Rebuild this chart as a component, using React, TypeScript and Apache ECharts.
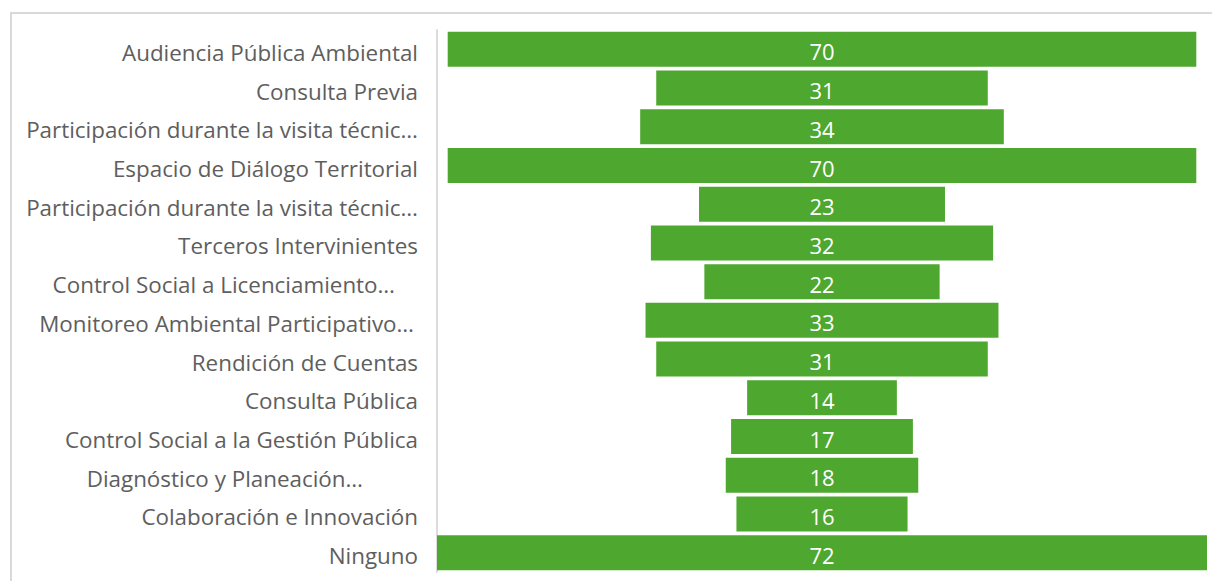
import React, { useEffect, useRef } from "react";
import * as echarts from "echarts";

const categories = [
  "Audiencia Pública Ambiental",
  "Consulta Previa",
  "Participación durante la visita técnic…",
  "Espacio de Diálogo Territorial",
  "Participación durante la visita técnic…",
  "Terceros Intervinientes",
  "Control Social a Licenciamiento…",
  "Monitoreo Ambiental Participativo…",
  "Rendición de Cuentas",
  "Consulta Pública",
  "Control Social a la Gestión Pública",
  "Diagnóstico y Planeación…",
  "Colaboración e Innovación",
  "Ninguno",
];

const values = [70, 31, 34, 70, 23, 32, 22, 33, 31, 14, 17, 18, 16, 72];

// extra right padding for truncated labels (as in the original rendering)
const labelPadRight: Record<number, number> = { 6: 23, 7: 4, 11: 55 };

export default function App() {
  const ref = useRef<HTMLDivElement>(null);
  useEffect(() => {
    if (!ref.current) return;
    const chart = echarts.init(ref.current, undefined, { renderer: "svg" });
    const maxV = Math.max(...values);
    const offsets = values.map((v) => (maxV - v) / 2);
    const font = "'Open Sans', 'Noto Sans', sans-serif";
    const lblStyle = { fontSize: 22.4, color: "#5e5e5e", fontFamily: font };
    chart.setOption({
      animation: false,
      grid: { left: 437, right: 5, top: 30, bottom: 9 },
      xAxis: { type: "value", min: 0, max: maxV, show: false },
      yAxis: {
        type: "category",
        data: categories,
        inverse: true,
        axisLine: { show: true, lineStyle: { color: "#dcdcdc", width: 2 } },
        axisTick: { show: false },
        axisLabel: {
          margin: 19,
          ...lblStyle,
          formatter: (val: string, idx: number) => {
            const p = labelPadRight[idx];
            return p ? `{p${idx}|${val}}` : `{n|${val}}`;
          },
          rich: {
            n: { ...lblStyle, padding: [6, 0, 0, 0] },
            ...Object.fromEntries(
              Object.entries(labelPadRight).map(([k, v]) => [
                "p" + k,
                { ...lblStyle, padding: [6, v, 0, 0] },
              ])
            ),
          },
        },
        splitLine: { show: false },
      },
      graphic: [
        { type: "line", shape: { x1: 10, y1: 13, x2: 1212, y2: 13 }, style: { stroke: "#d9d9d9", lineWidth: 2 } },
        { type: "line", shape: { x1: 11, y1: 12, x2: 11, y2: 581 }, style: { stroke: "#d9d9d9", lineWidth: 2 } },
      ],
      series: [
        {
          type: "bar",
          stack: "f",
          data: offsets,
          barWidth: 35,
          itemStyle: { color: "transparent" },
          silent: true,
        },
        {
          type: "bar",
          stack: "f",
          data: values,
          barWidth: 35,
          itemStyle: { color: "#4ea72e" },
          label: {
            show: true,
            position: "inside",
            color: "#ffffff",
            fontSize: 22,
            fontFamily: font,
            offset: [0, 2],
          },
        },
      ],
    });
    return () => chart.dispose();
  }, []);
  return (
    <div
      ref={ref}
      style={{ position: "absolute", left: 0, top: 0, width: 1212, height: 581, background: "#fff" }}
    />
  );
}
